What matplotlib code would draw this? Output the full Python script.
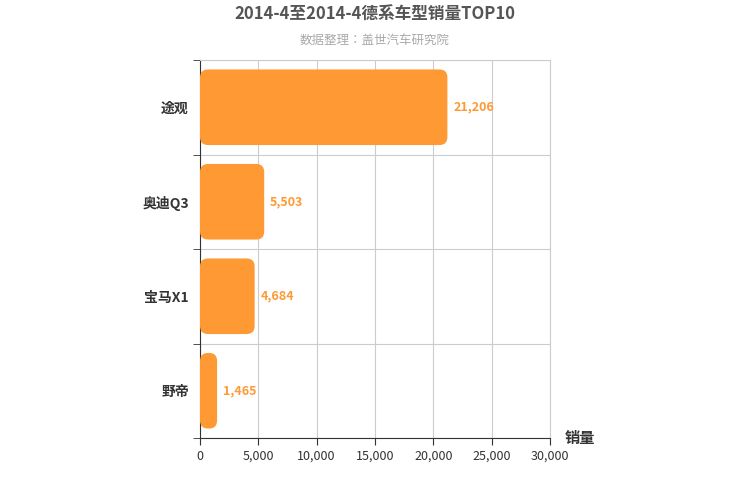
import matplotlib
matplotlib.use("Agg")
import matplotlib.pyplot as plt
from matplotlib.patches import FancyBboxPatch
from matplotlib import font_manager as fm

cjk = [f.name for f in fm.fontManager.ttflist if 'CJK' in f.name]
pref = [n for n in cjk if 'SC' in n] or cjk
fams = (pref[:1] if pref else []) + ['Noto Sans CJK SC', 'DejaVu Sans']
plt.rcParams['font.family'] = 'sans-serif'
plt.rcParams['font.sans-serif'] = fams

categories = ['途观', '奥迪Q3', '宝马X1', '野帝']
values = [21206, 5503, 4684, 1465]
xticks = [0, 5000, 10000, 15000, 20000, 25000, 30000]

fig = plt.figure(figsize=(7.5, 5), dpi=100)
ax = fig.add_axes([200/750, 62/500, 350/750, 378/500])
n = len(categories)
ax.set_xlim(0, 30000)
ax.set_ylim(-0.5, n - 0.5)
color = '#FF9933'
xu = 30000/350; yu = n/378
for i, (c, v) in enumerate(zip(categories, values)):
    y = n - 1 - i
    h = 0.8
    r = 8 * xu
    p = FancyBboxPatch((0, y - h/2), v, h,
                       boxstyle=f"round,pad=0,rounding_size={r}",
                       mutation_aspect=yu/xu, fc=color, ec='none', zorder=3)
    ax.add_patch(p)
    ax.text(v + 500, y, f"{v:,}", va='center', ha='left', color=color,
            fontsize=9, fontweight='bold', zorder=4)
ax.set_yticks(range(n))
ax.set_yticklabels(categories[::-1], fontsize=10, fontweight='bold', color='#333333')
ax.set_yticks([k + 0.5 for k in range(-1, n)], minor=True)
ax.tick_params(axis='y', which='major', length=0, pad=8)
ax.tick_params(axis='y', which='minor', length=5, color='#333333')
ax.set_xticks(xticks)
ax.set_xticklabels([f"{t:,}" for t in xticks], fontsize=9, color='#333333')
ax.tick_params(axis='x', length=5, color='#333333')
ax.grid(axis='x', color='#cccccc', lw=0.8, zorder=0)
ax.grid(axis='y', which='minor', color='#cccccc', lw=0.8, zorder=0)
for s in ['top', 'right']:
    ax.spines[s].set_color('#cccccc')
for s in ['left', 'bottom']:
    ax.spines[s].set_color('#333333')
fig.text(0.5, 1 - 15/500, '2014-4至2014-4德系车型销量TOP10', ha='center', va='center',
         fontsize=12, fontweight='bold', color='#555555')
fig.text(0.5, 1 - 40/500, '数据整理：盖世汽车研究院', ha='center', va='center',
         fontsize=9, color='#aaaaaa')
fig.text(565/750, 1 - 438/500, '销量', ha='left', va='center', fontsize=11,
         fontweight='bold', color='#333333')
fig.savefig('out.png', dpi=100)
